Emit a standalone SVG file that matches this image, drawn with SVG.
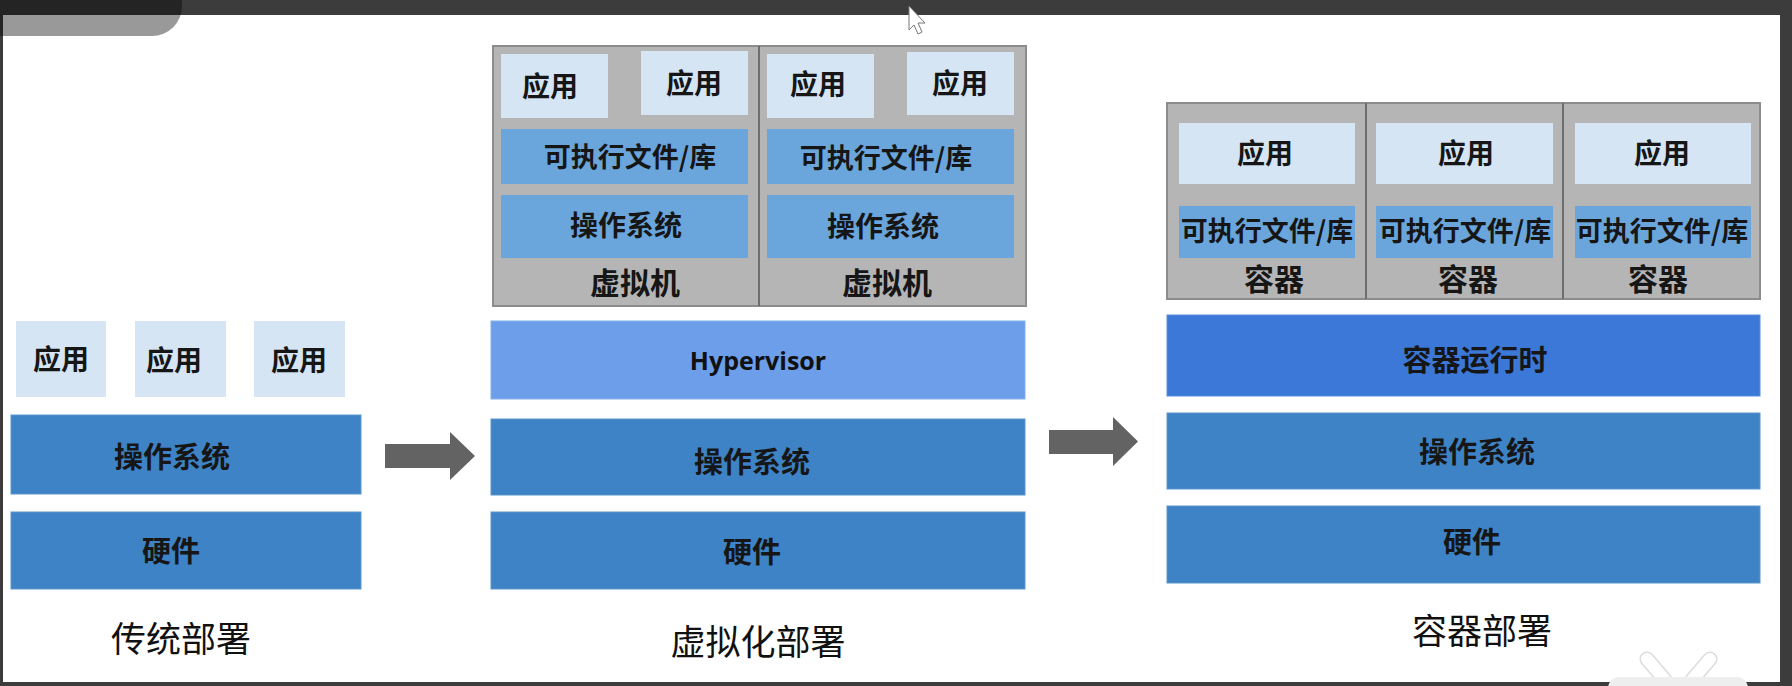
<svg xmlns="http://www.w3.org/2000/svg" width="1792" height="686" viewBox="0 0 1792 686">
<style>
.app{fill:#d5e5f4}
.dark{fill:#3e83c5;stroke:#5a95cc;stroke-width:1}
.mid{fill:#6aa6dc}
.gray{fill:#b5b5b5;stroke:#8c8c8c;stroke-width:2}
.div{stroke:#6e6e6e;stroke-width:2}
.lbl{font-family:"Noto Sans CJK SC",sans-serif;font-size:28px;font-weight:bold;fill:#161616;text-anchor:middle;dominant-baseline:central}
.lay{font-size:29px}
.exe{font-size:27px}
.cap{font-size:30px}
.ttl{font-family:"Noto Sans CJK SC",sans-serif;font-size:35px;fill:#111;text-anchor:middle;dominant-baseline:central}
.en{font-family:"Open Sans",sans-serif;font-size:25px;font-weight:bold;fill:#111;text-anchor:middle;dominant-baseline:central}
.arrow{fill:#636363}
</style>
<rect width="1792" height="686" fill="#ffffff"/>
<g id="frame">
<rect x="0" y="0" width="1792" height="15" fill="#3c3c3c"/>
<rect x="0" y="0" width="3" height="686" fill="#3c3c3c"/>
<rect x="1780" y="0" width="12" height="686" fill="#3c3c3c"/>
<rect x="0" y="682" width="1792" height="4" fill="#3c3c3c"/>
<path d="M0 0 H182 V6 A30 30 0 0 1 152 36 H0 Z" fill="#000" fill-opacity="0.4"/>
<polygon points="909,6 909,30 914,25 918,34 922,32 918,23 925,23" fill="#fff" stroke="#777" stroke-width="1"/>
<g stroke-linecap="round">
<line x1="1647" y1="659" x2="1665" y2="680" stroke="#dcdcdc" stroke-width="15"/>
<line x1="1710" y1="659" x2="1692" y2="680" stroke="#dcdcdc" stroke-width="15"/>
<line x1="1647" y1="659" x2="1665" y2="680" stroke="#fff" stroke-width="12"/>
<line x1="1710" y1="659" x2="1692" y2="680" stroke="#fff" stroke-width="12"/>
</g>
<rect x="1608" y="677" width="140" height="22" rx="12" fill="#eeeeee"/>
</g>

<g id="traditional">
<g id="t-app1"><rect class="app" x="16" y="321" width="90" height="76"/><text class="lbl" x="61" y="358">应用</text></g>
<g id="t-app2"><rect class="app" x="135" y="321" width="91" height="76"/><text class="lbl" x="174" y="359">应用</text></g>
<g id="t-app3"><rect class="app" x="254" y="321" width="91" height="76"/><text class="lbl" x="299" y="359">应用</text></g>
<g id="t-os"><rect class="dark" x="11" y="415" width="350" height="79"/><text class="lbl lay" x="172" y="455">操作系统</text></g>
<g id="t-hw"><rect class="dark" x="11" y="512" width="350" height="77"/><text class="lbl lay" x="171" y="549">硬件</text></g>
<g id="t-title"><text class="ttl" x="181" y="636">传统部署</text></g>
</g>

<g id="virtualization">
<g id="vm-box"><rect class="gray" x="493" y="46" width="533" height="260"/><line class="div" x1="759" y1="46" x2="759" y2="306"/></g>
<g id="vm1">
<g id="vm1-app1"><rect class="app" x="501" y="54" width="107" height="64"/><text class="lbl" x="550" y="85">应用</text></g>
<g id="vm1-app2"><rect class="app" x="641" y="51" width="107" height="64"/><text class="lbl" x="694" y="82">应用</text></g>
<g id="vm1-lib"><rect class="mid" x="501" y="129" width="247" height="55"/><text class="lbl exe" x="630" y="155">可执行文件/库</text></g>
<g id="vm1-os"><rect class="mid" x="501" y="195" width="247" height="63"/><text class="lbl" x="626" y="224">操作系统</text></g>
<text class="lbl cap" x="635" y="281">虚拟机</text>
</g>
<g id="vm2">
<g id="vm2-app1"><rect class="app" x="767" y="54" width="107" height="64"/><text class="lbl" x="818" y="83">应用</text></g>
<g id="vm2-app2"><rect class="app" x="907" y="52" width="107" height="63"/><text class="lbl" x="960" y="82">应用</text></g>
<g id="vm2-lib"><rect class="mid" x="767" y="129" width="247" height="55"/><text class="lbl exe" x="886" y="156">可执行文件/库</text></g>
<g id="vm2-os"><rect class="mid" x="767" y="195" width="247" height="63"/><text class="lbl" x="883" y="225">操作系统</text></g>
<text class="lbl cap" x="887" y="281">虚拟机</text>
</g>
<g id="hypervisor"><rect x="491" y="321" width="534" height="78" fill="#6d9eea" stroke="#86afee" stroke-width="1"/><text class="en" x="758" y="360">Hypervisor</text></g>
<g id="v-os"><rect class="dark" x="491" y="419" width="534" height="76"/><text class="lbl lay" x="752" y="460">操作系统</text></g>
<g id="v-hw"><rect class="dark" x="491" y="512" width="534" height="77"/><text class="lbl lay" x="752" y="550">硬件</text></g>
<g id="v-title"><text class="ttl" x="758" y="639">虚拟化部署</text></g>
</g>

<g id="container">
<g id="c-box"><rect class="gray" x="1167" y="103" width="593" height="196"/><line class="div" x1="1366" y1="103" x2="1366" y2="299"/><line class="div" x1="1563" y1="103" x2="1563" y2="299"/></g>
<g id="c1">
<g id="c1-app"><rect class="app" x="1179" y="123" width="176" height="61"/><text class="lbl" x="1265" y="152">应用</text></g>
<g id="c1-lib"><rect class="mid" x="1179" y="206" width="176" height="52"/><text class="lbl exe" x="1267" y="229">可执行文件/库</text></g>
<text class="lbl cap" x="1274" y="277">容器</text>
</g>
<g id="c2">
<g id="c2-app"><rect class="app" x="1376" y="123" width="177" height="61"/><text class="lbl" x="1466" y="152">应用</text></g>
<g id="c2-lib"><rect class="mid" x="1376" y="206" width="177" height="52"/><text class="lbl exe" x="1465" y="229">可执行文件/库</text></g>
<text class="lbl cap" x="1468" y="277">容器</text>
</g>
<g id="c3">
<g id="c3-app"><rect class="app" x="1575" y="123" width="176" height="61"/><text class="lbl" x="1662" y="152">应用</text></g>
<g id="c3-lib"><rect class="mid" x="1575" y="206" width="176" height="52"/><text class="lbl exe" x="1662" y="229">可执行文件/库</text></g>
<text class="lbl cap" x="1658" y="277">容器</text>
</g>
<g id="runtime"><rect x="1167" y="315" width="593" height="81" fill="#3c78d8" stroke="#5a8ee0" stroke-width="1"/><text class="lbl lay" x="1475" y="358">容器运行时</text></g>
<g id="c-os"><rect class="dark" x="1167" y="413" width="593" height="76"/><text class="lbl lay" x="1477" y="450">操作系统</text></g>
<g id="c-hw"><rect class="dark" x="1167" y="506" width="593" height="77"/><text class="lbl lay" x="1472" y="540">硬件</text></g>
<g id="c-title"><text class="ttl" x="1482" y="628">容器部署</text></g>
</g>

<g id="connectors">
<polygon class="arrow" points="385,444 450,444 450,432 475,456 450,480 450,468 385,468"/>
<polygon class="arrow" points="1049,430 1113,430 1113,417 1138,441.5 1113,466 1113,454 1049,454"/>
</g>
</svg>
